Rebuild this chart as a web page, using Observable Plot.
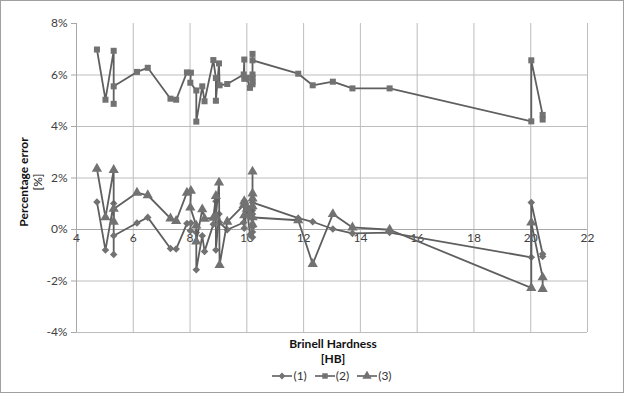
<!DOCTYPE html>
<html>
<head>
<meta charset="utf-8">
<script src="https://cdn.jsdelivr.net/npm/d3@7"></script>
<script src="https://cdn.jsdelivr.net/npm/@observablehq/plot@0.6"></script>
<style>
  html, body { margin: 0; padding: 0; background: #fff; }
  #wrap { position: relative; width: 624px; height: 393px; overflow: hidden; font-family: Lato, "Open Sans", sans-serif; }
  #border { position: absolute; left: 0; top: 0; width: 622px; height: 391px; border: 1px solid #a0a0a0; pointer-events: none; }
  .t { position: absolute; white-space: nowrap; color: #111; font-size: 12px; }
  #legend { position: absolute; top: 368px; left: 0; width: 664px; text-align: center; font-size: 12px; color: #333; }
  #legend span.item { display: inline-flex; align-items: center; margin: 0 4px; }
  #legend svg { margin-right: 1px; }
</style>
</head>
<body>
<div id="wrap">
  <div id="chart"></div>
  <div class="t" style="left:23px;top:182px;transform:translate(-50%,-50%) rotate(-90deg);font-weight:bold;">Percentage error</div>
  <div class="t" style="left:37px;top:182px;transform:translate(-50%,-50%) rotate(-90deg);">[%]</div>
  <div class="t" style="left:333px;top:343px;transform:translate(-50%,-50%);font-weight:bold;">Brinell Hardness</div>
  <div class="t" style="left:333px;top:358px;transform:translate(-50%,-50%);font-weight:bold;">[HB]</div>
  <div id="legend"></div>
  <div id="border"></div>
</div>
<script>
// Brinell hardness [HB] of each specimen (shared by all three series, in plotting order)
const hardness = [4.72, 5.02, 5.31, 5.31, 5.31, 6.13, 6.51, 7.31, 7.51, 7.89, 8.03, 8.01, 8.22, 8.22, 8.43, 8.51,
  8.82, 8.91, 8.91, 9.02, 9.04, 9.31, 9.89, 9.91, 9.91, 10.0, 10.11, 10.2, 10.2, 10.2, 10.2, 10.2, 10.2,
  11.81, 12.32, 13.03, 13.72, 15.03, 20.02, 20.02, 20.42, 20.42];

// Percentage error [%]
const series1 = [1.07, -0.80, 1.01, -0.97, -0.24, 0.25, 0.47, -0.74, -0.76, 0.23, 0.25, -0.05, -0.12, -1.56, -0.24, -0.85,
  0.20, 1.10, -0.80, 0.60, 0.27, -0.01, 0.27, 1.11, 0.05, 0.90, -0.20, -0.30, -0.10, 0.10, 0.60, 0.75, 1.05,
  0.44, 0.30, 0.02, -0.15, -0.12, -1.08, 1.05, -0.95, -1.05];
const series2 = [6.99, 5.04, 6.94, 4.88, 5.56, 6.12, 6.28, 5.08, 5.04, 6.10, 6.09, 5.70, 5.40, 4.19, 5.56, 4.98,
  6.58, 5.88, 5.00, 6.45, 5.60, 5.65, 6.02, 6.60, 5.85, 5.89, 5.50, 5.64, 5.74, 5.89, 6.02, 6.82, 6.57,
  6.05, 5.60, 5.74, 5.48, 5.48, 4.20, 6.57, 4.45, 4.27];
const series3 = [2.36, 0.47, 2.31, 0.30, 0.80, 1.43, 1.33, 0.43, 0.33, 1.43, 1.50, 0.85, 0.15, -0.47, 0.78, 0.42,
  0.45, 1.30, 0.50, 1.82, -1.38, 0.30, 0.95, 1.10, 0.55, 0.80, 0.60, 0.20, 1.40, 0.90, 1.20, 2.25, 0.47,
  0.36, -1.34, 0.60, 0.08, -0.01, -2.27, 0.27, -1.86, -2.31];

const seriesNames = ["(1)", "(2)", "(3)"];
const xTicks = [4, 6, 8, 10, 12, 14, 16, 18, 20, 22];
const yTicks = [-4, -2, 0, 2, 4, 6, 8];

const symbols = {"(1)": "diamond2", "(2)": "square", "(3)": "triangle"};
const lineColor = "#5f5f5f";
const dotColor = "#727272";

const rows = [];
[series1, series2, series3].forEach((s, k) => {
  s.forEach((v, i) => rows.push({series: seriesNames[k], hb: hardness[i], err: v}));
});

const marks = [
  Plot.gridY(yTicks.filter(v => v !== 0 && v !== 8), {stroke: "#bdbdbd", strokeOpacity: 1}),
  Plot.gridX(xTicks.filter(v => v !== 4), {stroke: "#bdbdbd", strokeOpacity: 1}),
  Plot.ruleY([0], {stroke: "#a8a8a8", strokeWidth: 1}),
  Plot.ruleX([4], {stroke: "#a8a8a8", strokeWidth: 1}),
  Plot.axisY(yTicks, {tickFormat: d => d + "%", tickSize: 5, tickPadding: 4, label: null, stroke: "#a8a8a8", fill: "#404040", fontSize: 12}),
  Plot.text(xTicks, {x: d => d, y: d => 0, text: d => String(d), lineAnchor: "top", dy: 4, fill: "#404040", fontSize: 12})
];
seriesNames.forEach(name => {
  const data = rows.filter(r => r.series === name);
  marks.push(Plot.line(data, {x: "hb", y: "err", stroke: lineColor, strokeWidth: 1.8}));
  marks.push(Plot.dot(data, {x: "hb", y: "err", symbol: () => symbols[name], fill: dotColor, stroke: "none", r: name === "(3)" ? 3.8 : 3.4}));
});

const chart = Plot.plot({
  width: 624,
  height: 393,
  marginLeft: 76,
  marginRight: 37,
  marginTop: 23,
  marginBottom: 61,
  x: {domain: [4, 22], axis: null},
  y: {domain: [-4, 8], axis: null},
  symbol: {type: "identity"},
  style: {fontFamily: "Lato, 'Open Sans', sans-serif", fontSize: "12px", background: "white"},
  marks
});
document.getElementById("chart").appendChild(chart);

// legend
const legend = document.getElementById("legend");
const symPath = {"(1)": d3.symbol(d3.symbolDiamond2, 30)(), "(2)": d3.symbol(d3.symbolSquare, 30)(), "(3)": d3.symbol(d3.symbolTriangle, 38)()};
seriesNames.forEach(name => {
  const item = document.createElement("span");
  item.className = "item";
  item.innerHTML = `<svg width="20" height="10"><line x1="0" x2="20" y1="5" y2="5" stroke="${lineColor}" stroke-width="1.6"/><path transform="translate(10,5)" d="${symPath[name]}" fill="${dotColor}"/></svg><span>${name}</span>`;
  legend.appendChild(item);
});
</script>
</body>
</html>
